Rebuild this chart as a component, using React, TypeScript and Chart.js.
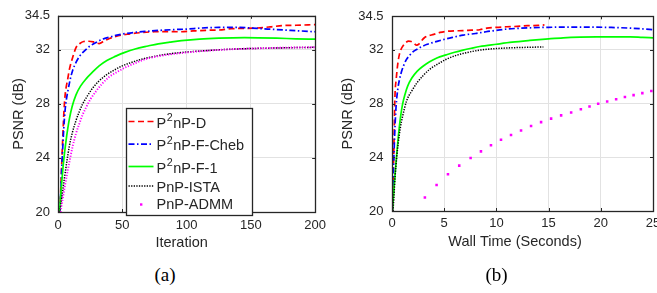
import React, { useEffect, useRef } from "react";
import { Chart, registerables } from "chart.js";

Chart.register(...registerables);

// ---------- shared ticks / labels ----------
const yTicks = [20, 24, 28, 32, 34.5];
const xTicksA = [0, 50, 100, 150, 200];
const xTicksB = [0, 5, 10, 15, 20, 25];
const seriesLabels = ["P²nP-D", "P²nP-F-Cheb", "P²nP-F-1", "PnP-ISTA", "PnP-ADMM"];

// ---------- (a) PSNR vs iteration ----------
const iterRedA = [1.5, 2.5, 3.5, 4.5, 5.5, 6.5, 7.5, 9, 11.5, 14, 17, 20, 24, 28, 32, 36, 40, 45, 55, 65, 75, 85, 95, 105, 115, 125, 135, 145, 155, 165, 175, 185, 200];
const psnrRedA = [20.0, 22.6, 25.0, 27.2, 28.6, 29.3, 29.8, 30.6, 31.45, 32.15, 32.45, 32.6, 32.62, 32.56, 32.45, 32.65, 32.82, 32.98, 33.15, 33.26, 33.32, 33.33, 33.32, 33.38, 33.43, 33.45, 33.55, 33.57, 33.6, 33.68, 33.78, 33.8, 33.85];

const iterBlueA = [1.5, 2.5, 3.5, 4.5, 5.5, 6.5, 7.7, 9.5, 11.5, 14, 16.7, 20, 24, 29, 35, 40, 45, 52, 60, 70, 80, 90, 100, 112, 125, 140, 155, 170, 185, 200];
const psnrBlueA = [20.0, 22.3, 24.4, 26.2, 27.5, 28.3, 28.95, 29.8, 30.5, 31.05, 31.5, 31.85, 32.2, 32.5, 32.78, 32.92, 33.05, 33.18, 33.28, 33.36, 33.43, 33.48, 33.52, 33.6, 33.64, 33.64, 33.57, 33.48, 33.4, 33.32];

const iterGreenA = [1.2, 2, 3, 4, 5, 6.3, 7.5, 9, 11, 14, 17.5, 22, 27, 32, 38, 45, 52, 60, 70, 78, 87, 96, 110, 125, 145, 170, 185, 200];
const psnrGreenA = [20.0, 21.1, 22.3, 23.4, 24.3, 25.3, 26.1, 26.95, 27.8, 28.66, 29.3, 29.86, 30.35, 30.8, 31.2, 31.52, 31.8, 32.05, 32.27, 32.43, 32.55, 32.66, 32.78, 32.85, 32.89, 32.85, 32.8, 32.77];

const iterBlackA = [1.5, 2.5, 5, 7, 8.8, 11, 14, 16.5, 19, 23, 26.8, 31, 37, 43, 50, 57, 65, 74, 83, 93, 105, 119, 132, 145, 158, 170, 185, 200];
const psnrBlackA = [20.0, 20.75, 22.5, 23.8, 24.86, 25.8, 26.76, 27.4, 27.95, 28.6, 29.14, 29.6, 30.09, 30.45, 30.8, 31.05, 31.29, 31.48, 31.64, 31.76, 31.86, 31.95, 32.02, 32.07, 32.1, 32.12, 32.15, 32.17];

const iterMagentaA = [2, 3.7, 5.5, 7.5, 9.5, 11.4, 14, 16.5, 19, 21.7, 25, 29.4, 34, 39.6, 46, 52.5, 60, 67.8, 76, 85, 95, 107, 120, 135, 150, 165, 180, 200];
const psnrMagentaA = [20.0, 21.0, 22.0, 23.05, 24.0, 24.86, 25.8, 26.5, 27.15, 27.7, 28.3, 28.9, 29.45, 29.97, 30.35, 30.69, 31.0, 31.29, 31.48, 31.62, 31.74, 31.85, 31.95, 32.03, 32.08, 32.12, 32.15, 32.18];

// ---------- (b) PSNR vs wall time (seconds) ----------
const timeRedB = [0.03, 0.12, 0.2, 0.28, 0.4, 0.56, 0.72, 0.9, 1.1, 1.36, 1.6, 1.84, 2.1, 2.35, 2.6, 2.85, 3.1, 3.45, 4.0, 4.6, 5.2, 6.0, 6.8, 7.6, 8.4, 9.1, 10.0, 11.0, 12.0, 13.0, 14.0, 14.6];
const psnrRedB = [20.0, 22.5, 25.5, 28.5, 29.8, 31.0, 31.7, 32.1, 32.35, 32.57, 32.65, 32.62, 32.5, 32.35, 32.45, 32.7, 32.9, 33.04, 33.15, 33.3, 33.38, 33.42, 33.43, 33.47, 33.5, 33.62, 33.68, 33.72, 33.75, 33.8, 33.82, 33.86];

const timeBlueB = [0.03, 0.1, 0.2, 0.3, 0.4, 0.56, 0.72, 0.9, 1.1, 1.36, 1.7, 2.0, 2.4, 2.8, 3.3, 3.8, 4.4, 5.1, 5.8, 6.8, 8.0, 9.0, 10.0, 11.0, 12.0, 13.5, 15.0, 16.5, 18.0, 19.6, 21.0, 22.8, 24.0, 25.0];
const psnrBlueB = [20.0, 22.0, 24.5, 26.5, 27.9, 29.1, 29.8, 30.35, 30.8, 31.25, 31.6, 31.85, 32.05, 32.22, 32.4, 32.52, 32.65, 32.8, 32.93, 33.1, 33.22, 33.35, 33.45, 33.55, 33.6, 33.65, 33.68, 33.7, 33.7, 33.69, 33.67, 33.62, 33.56, 33.5];

const timeGreenB = [0.05, 0.15, 0.3, 0.45, 0.6, 0.8, 1.0, 1.25, 1.5, 1.9, 2.4, 3.0, 3.6, 4.3, 5.2, 6.0, 6.8, 7.6, 8.4, 10.0, 11.5, 13.2, 15.0, 16.4, 18.0, 19.6, 21.0, 22.8, 24.0, 25.0];
const psnrGreenB = [20.0, 21.2, 22.8, 24.2, 25.5, 26.9, 27.9, 28.7, 29.3, 29.9, 30.4, 30.8, 31.12, 31.4, 31.63, 31.82, 31.98, 32.12, 32.25, 32.42, 32.57, 32.7, 32.82, 32.9, 32.95, 32.97, 32.97, 32.97, 32.93, 32.9];

const timeBlackB = [0.1, 0.2, 0.3, 0.45, 0.6, 0.8, 1.0, 1.4, 1.9, 2.4, 3.0, 3.6, 4.4, 5.2, 6.0, 6.8, 7.6, 8.4, 9.2, 10.0, 11.0, 12.0, 13.0, 14.0, 14.5];
const psnrBlackB = [20.0, 21.3, 22.6, 24.0, 25.1, 26.2, 27.0, 28.2, 28.95, 29.55, 30.1, 30.55, 30.95, 31.3, 31.55, 31.73, 31.87, 31.98, 32.05, 32.1, 32.14, 32.17, 32.19, 32.21, 32.22];

const timeMagentaB = [3.15, 4.27, 5.36, 6.44, 7.53, 8.52, 9.48, 10.44, 11.4, 12.36, 13.32, 14.28, 15.24, 16.2, 17.16, 18.09, 18.92, 19.75, 20.61, 21.47, 22.31, 23.14, 23.98, 24.84];
const psnrMagentaB = [21.01, 21.94, 22.73, 23.38, 23.94, 24.44, 24.89, 25.3, 25.66, 25.99, 26.33, 26.62, 26.88, 27.12, 27.34, 27.58, 27.79, 27.99, 28.15, 28.32, 28.49, 28.63, 28.78, 28.94];

// ---------- styling ----------
const FONT = "'Liberation Sans', Arial, Helvetica, sans-serif";
const TEXT = "#262626";
const GRID = "#e2e2e2";
const COLORS = ["#ff0000", "#0000ff", "#00ff00", "#000000", "#ff00ff"];
const DASHES: number[][] = [[6, 3.5], [6, 2.5, 1.5, 2.5], [], [1.3, 1.3], [1.2, 1.6]];
const WIDTHS = [1.7, 1.7, 1.7, 1.5, 1.9];

function pts(xs: number[], ys: number[]) {
  return xs.map((x, i) => ({ x, y: ys[i] }));
}

function lineDataset(i: number, xs: number[], ys: number[]) {
  return {
    label: seriesLabels[i],
    data: pts(xs, ys),
    borderColor: COLORS[i],
    backgroundColor: COLORS[i],
    borderDash: DASHES[i],
    borderWidth: WIDTHS[i],
    pointRadius: 0,
    fill: false,
    cubicInterpolationMode: "monotone",
    order: 4 - i,
  };
}

function pointDataset(i: number, xs: number[], ys: number[]) {
  return {
    label: seriesLabels[i],
    data: pts(xs, ys),
    borderColor: COLORS[i],
    backgroundColor: COLORS[i],
    showLine: false,
    pointStyle: "rect",
    pointRadius: 1.8,
    pointBorderWidth: 0,
    order: 4 - i,
  };
}

function drawLabel(ctx: CanvasRenderingContext2D, text: string, x: number, y: number, size: number) {
  const parts = text.split("²");
  ctx.font = `${size}px ${FONT}`;
  ctx.textBaseline = "middle";
  ctx.textAlign = "left";
  if (parts.length === 1) {
    ctx.fillText(text, x, y);
    return;
  }
  ctx.fillText(parts[0], x, y);
  let cx = x + ctx.measureText(parts[0]).width + 0.5;
  ctx.font = `${size * 0.74}px ${FONT}`;
  ctx.fillText("2", cx, y - 5);
  cx += ctx.measureText("2").width + 0.5;
  ctx.font = `${size}px ${FONT}`;
  ctx.fillText(parts[1], cx, y);
}

type PanelCfg = {
  width: number;
  height: number;
  padTop: number;
  padRight: number;
  yAxisW: number;
  xAxisH: number;
  xMin: number;
  xMax: number;
  xTicks: number[];
  xTitle: string;
  xTitleDx: number;
  xTitleDy: number;
  xTickPad: number;
  yTickPad: number;
  yTitlePad: number;
  datasets: any[];
  legend: boolean;
};

const framePlugin = {
  id: "matlabFrame",
  afterDatasetsDraw(chart: any, _args: any, opts: any) {
    const { ctx, chartArea: ca, scales } = chart;
    const xs = scales.x;
    const ys = scales.y;
    ctx.save();
    ctx.strokeStyle = TEXT;
    ctx.lineWidth = 1;
    const tl = 3;
    ctx.beginPath();
    xs.ticks.forEach((t: any) => {
      const px = Math.round(xs.getPixelForValue(t.value)) + 0.5;
      ctx.moveTo(px, ca.bottom);
      ctx.lineTo(px, ca.bottom - tl);
      ctx.moveTo(px, ca.top);
      ctx.lineTo(px, ca.top + tl);
    });
    ys.ticks.forEach((t: any) => {
      const py = Math.round(ys.getPixelForValue(t.value)) + 0.5;
      ctx.moveTo(ca.left, py);
      ctx.lineTo(ca.left + tl, py);
      ctx.moveTo(ca.right, py);
      ctx.lineTo(ca.right - tl, py);
    });
    ctx.stroke();
    ctx.lineWidth = 1.3;
    ctx.strokeRect(Math.round(ca.left) + 0.5, Math.round(ca.top) + 0.5, Math.round(ca.right - ca.left), Math.round(ca.bottom - ca.top));
    // x-axis title
    ctx.fillStyle = TEXT;
    ctx.font = `14.5px ${FONT}`;
    ctx.textAlign = "center";
    ctx.textBaseline = "middle";
    ctx.fillText(opts.xTitle, (ca.left + ca.right) / 2 + opts.xTitleDx, ca.bottom + opts.xTitleDy);
    ctx.restore();
  },
  afterDraw(chart: any, _args: any, opts: any) {
    if (!opts.legend) return;
    const { ctx, chartArea: ca } = chart;
    const bx = Math.round(ca.left + 68) + 0.5;
    const by = Math.round(ca.top + 92) + 0.5;
    const bw = 126;
    const bh = 107;
    ctx.save();
    ctx.fillStyle = "#ffffff";
    ctx.fillRect(bx, by, bw, bh);
    ctx.strokeStyle = TEXT;
    ctx.lineWidth = 1.3;
    ctx.strokeRect(bx, by, bw, bh);
    const rows = [15, 37.7, 60, 79.4, 96];
    const markers = ["line", "line", "line", "line", "dot"];
    chart.data.datasets.forEach((ds: any, i: number) => {
      const cy = by + rows[i];
      const ly = cy - 2;
      if (markers[i] === "line") {
        ctx.beginPath();
        ctx.strokeStyle = COLORS[i];
        ctx.lineWidth = WIDTHS[i];
        ctx.setLineDash(DASHES[i]);
        ctx.moveTo(bx + 2, ly);
        ctx.lineTo(bx + 27, ly);
        ctx.stroke();
        ctx.setLineDash([]);
      } else {
        ctx.fillStyle = COLORS[i];
        ctx.fillRect(bx + 13.5, cy - 1.2, 2.4, 2.4);
      }
      ctx.fillStyle = TEXT;
      drawLabel(ctx, ds.label, bx + 30, cy, 14.5);
    });
    ctx.restore();
  },
};

function Panel({ cfg, left }: { cfg: PanelCfg; left: number }) {
  const ref = useRef<HTMLCanvasElement | null>(null);
  useEffect(() => {
    if (!ref.current) return;
    const chart = new Chart(ref.current, {
      type: "line",
      data: { datasets: cfg.datasets },
      plugins: [framePlugin as any],
      options: {
        responsive: false,
        animation: false,
        events: [],
        devicePixelRatio: 1,
        layout: { padding: { left: 0, right: cfg.padRight, top: cfg.padTop, bottom: 0 } },
        plugins: {
          legend: { display: false },
          tooltip: { enabled: false },
          matlabFrame: { xTitle: cfg.xTitle, xTitleDx: cfg.xTitleDx, xTitleDy: cfg.xTitleDy, legend: cfg.legend },
        } as any,
        scales: {
          x: {
            type: "linear",
            min: cfg.xMin,
            max: cfg.xMax,
            afterBuildTicks: (s: any) => {
              s.ticks = cfg.xTicks.map((v) => ({ value: v }));
            },
            afterFit: (s: any) => {
              s.height = cfg.xAxisH;
            },
            grid: { color: GRID, drawTicks: false, lineWidth: 1 },
            border: { display: false },
            ticks: {
              padding: cfg.xTickPad,
              color: TEXT,
              font: { family: FONT, size: 13 },
              maxRotation: 0,
              autoSkip: false,
              callback: (v: any) => String(v),
            },
          },
          y: {
            type: "linear",
            min: 20,
            max: 34.5,
            afterBuildTicks: (s: any) => {
              s.ticks = yTicks.map((v) => ({ value: v }));
            },
            afterFit: (s: any) => {
              s.width = cfg.yAxisW;
            },
            grid: { color: GRID, drawTicks: false, lineWidth: 1 },
            border: { display: false },
            ticks: {
              padding: cfg.yTickPad,
              color: TEXT,
              font: { family: FONT, size: 13 },
              autoSkip: false,
              callback: (v: any) => String(v),
            },
            title: {
              display: true,
              text: "PSNR (dB)",
              color: TEXT,
              font: { family: FONT, size: 14.5 },
              padding: { top: cfg.yTitlePad, bottom: 0 },
            },
          },
        },
      } as any,
    });
    return () => chart.destroy();
  }, [cfg]);
  return (
    <canvas
      ref={ref}
      width={cfg.width}
      height={cfg.height}
      style={{ position: "absolute", left, top: 0, width: cfg.width, height: cfg.height }}
    />
  );
}

const cfgA: PanelCfg = {
  width: 332,
  height: 252,
  padTop: 11,
  padRight: 12,
  yAxisW: 58,
  xAxisH: 40,
  xMin: 0,
  xMax: 200,
  xTicks: xTicksA,
  xTitle: "Iteration",
  xTitleDx: -5,
  xTitleDy: 31.3,
  xTickPad: 6,
  yTickPad: 8,
  yTitlePad: 10,
  legend: true,
  datasets: [
    lineDataset(0, iterRedA, psnrRedA),
    lineDataset(1, iterBlueA, psnrBlueA),
    lineDataset(2, iterGreenA, psnrGreenA),
    lineDataset(3, iterBlackA, psnrBlackA),
    lineDataset(4, iterMagentaA, psnrMagentaA),
  ],
};

const cfgB: PanelCfg = {
  width: 340,
  height: 251,
  padTop: 9,
  padRight: 17,
  yAxisW: 62,
  xAxisH: 40,
  xMin: 0,
  xMax: 25,
  xTicks: xTicksB,
  xTitle: "Wall Time (Seconds)",
  xTitleDx: -7.5,
  xTitleDy: 30.7,
  xTickPad: 5,
  yTickPad: 8.5,
  yTitlePad: 9.3,
  legend: false,
  datasets: [
    lineDataset(0, timeRedB, psnrRedB),
    lineDataset(1, timeBlueB, psnrBlueB),
    lineDataset(2, timeGreenB, psnrGreenB),
    lineDataset(3, timeBlackB, psnrBlackB),
    pointDataset(4, timeMagentaB, psnrMagentaB),
  ],
};

export default function App() {
  const captionStyle: React.CSSProperties = {
    position: "absolute",
    top: 264,
    height: 22,
    lineHeight: "22px",
    textAlign: "center",
    fontFamily: "'Liberation Serif', 'Times New Roman', serif",
    fontSize: 19,
    color: "#000",
  };
  return (
    <div
      style={{
        position: "absolute",
        left: 0,
        top: 0,
        width: 657,
        height: 293,
        overflow: "hidden",
        background: "#ffffff",
      }}
    >
      <Panel cfg={cfgA} left={0} />
      <Panel cfg={cfgB} left={330} />
      <div style={{ ...captionStyle, left: 0, width: 330 }}>(a)</div>
      <div style={{ ...captionStyle, left: 330, width: 333 }}>(b)</div>
    </div>
  );
}
